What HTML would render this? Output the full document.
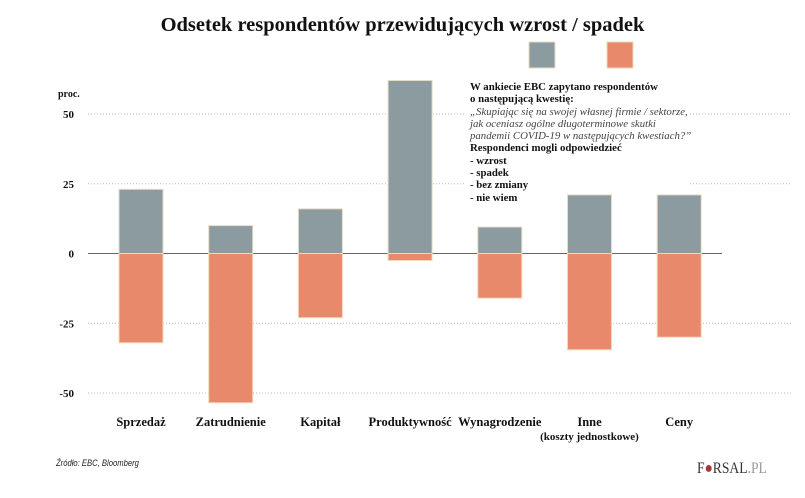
<!DOCTYPE html>
<html><head><meta charset="utf-8">
<style>
html,body{margin:0;padding:0;background:#fff;}
body{width:805px;height:498px;position:relative;overflow:hidden;font-family:"Liberation Serif",serif;}
.t{position:absolute;white-space:nowrap;}
</style></head>
<body>
<div class="t" style="left:0;width:805px;text-align:center;top:14px;font-size:20.5px;font-weight:bold;color:#111;">Odsetek respondentów przewidujących wzrost / spadek</div>
<svg id="c" width="805" height="498" style="position:absolute;left:0;top:0"></svg>
<div class="t" style="left:470px;top:81px;font-size:10.8px;line-height:12.3px;color:#111;">
<b>W ankiecie EBC zapytano respondentów<br>o następującą kwestię:</b><br>
<i style="color:#444">„Skupiając się na swojej własnej firmie / sektorze,<br>jak oceniasz ogólne długoterminowe skutki<br>pandemii COVID-19 w następujących kwestiach?”</i><br>
<b>Respondenci mogli odpowiedzieć<br>- wzrost<br>- spadek<br>- bez zmiany<br>- nie wiem</b></div>
<div class="t" style="left:56px;top:458px;font-family:'Liberation Sans',sans-serif;font-style:italic;font-size:9px;color:#222;transform:scaleX(0.85);transform-origin:left;">Źródło: EBC, Bloomberg</div>
<div class="t" style="left:697px;top:460px;font-size:16px;color:#333;transform:scaleX(0.85);transform-origin:left;">F<span style="color:#a33">●</span>RSAL<span style="color:#999">.PL</span></div>
<script>
const categories=["Sprzedaż","Zatrudnienie","Kapitał","Produktywność","Wynagrodzenie","Inne","Ceny"];
const increase=[23,10,16,62,9.5,21,21];
const decrease=[-32,-53.5,-23,-2.5,-16,-34.5,-30];
const yTicks=[50,25,0,-25,-50];
const NS="http://www.w3.org/2000/svg";
const svg=document.getElementById('c');
const y=v=>253.5-v*2.79;
const xc=i=>141+i*89.7;
function mk(t,a){const e=document.createElementNS(NS,t);for(const k in a)e.setAttribute(k,a[k]);svg.appendChild(e);return e;}
yTicks.forEach(v=>{
  if(v!==0){
    const segs=(v>0)?[[88,466],[690,792]]:[[88,792]];
    segs.forEach(s=>{
      const l=mk('line',{x1:s[0],x2:s[1],y1:y(v),y2:y(v),stroke:'#bbb','stroke-dasharray':'1,2','stroke-width':1});
      
      
    });
  }
  const t=mk('text',{x:74,y:y(v)+4,'text-anchor':'end','font-size':11,'font-weight':'bold','font-family':'Liberation Serif,serif',fill:'#111'});
  t.textContent=v;
  
  
});
const pu=mk('text',{x:58,y:97,'font-size':10,'font-weight':'bold','font-family':'Liberation Serif,serif',fill:'#111'});
pu.textContent='proc.';


const z=mk('line',{x1:88,x2:722,y1:y(0),y2:y(0),stroke:'#666','stroke-width':1});


categories.forEach((c,i)=>{
  const x=xc(i)-22;
  const b1=mk('rect',{x:x,y:y(increase[i]),width:44,height:y(0)-y(increase[i]),fill:'#8b9ba0',stroke:'#e6dcc4','stroke-width':1});
  
  
  const b2=mk('rect',{x:x,y:y(0),width:44,height:y(decrease[i])-y(0),fill:'#e8896c',stroke:'#f2d8b8','stroke-width':1});
  
  
  const t=mk('text',{x:xc(i),y:426,'text-anchor':'middle','font-size':12.5,'font-weight':'bold','font-family':'Liberation Serif,serif',fill:'#111'});
  t.textContent=c;
  
  
});
const sub=mk('text',{x:xc(5),y:440,'text-anchor':'middle','font-size':11,'font-weight':'bold','font-family':'Liberation Serif,serif',fill:'#111'});
sub.textContent='(koszty jednostkowe)';


const l1=mk('rect',{x:529,y:42,width:26,height:26,fill:'#8b9ba0',stroke:'#e6dcc4'});


const l2=mk('rect',{x:607,y:42,width:26,height:26,fill:'#e8896c',stroke:'#f2d8b8'});


</script>
</body></html>
